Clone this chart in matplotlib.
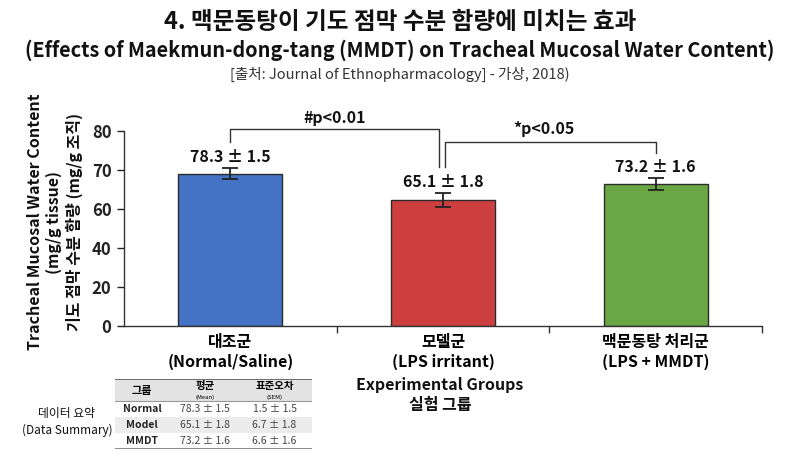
import numpy as np
import matplotlib
matplotlib.use("Agg")
import matplotlib.pyplot as plt
from matplotlib.patches import Rectangle

plt.rcParams['font.family'] = ['Noto Sans CJK KR', 'DejaVu Sans']

# data
groups_kr = ['대조군', '모델군', '맥문동탕 처리군']
groups_en = ['(Normal/Saline)', '(LPS irritant)', '(LPS + MMDT)']
bar_values = [69.1, 62.3, 66.4]          # bar heights as drawn on the axis
bar_errors = [1.5, 1.8, 1.6]
bar_labels = ['78.3 ± 1.5', '65.1 ± 1.8', '73.2 ± 1.6']
bar_colors = ['#4472c4', '#cd3f3f', '#6aa744']
y_ticks = [0, 20, 40, 60, 70, 80]

table_groups = ['Normal', 'Model', 'MMDT']
table_mean = ['78.3 ± 1.5', '65.1 ± 1.8', '73.2 ± 1.6']
table_sem = ['1.5 ± 1.5', '6.7 ± 1.8', '6.6 ± 1.6']


# y axis: 0-60 in steps of 20, then 60-80 in steps of 10, all equally spaced
def fwd(v):
    v = np.asarray(v, dtype=float)
    return np.where(v <= 60, v / 20.0, 3 + (v - 60) / 10.0)


def inv(u):
    u = np.asarray(u, dtype=float)
    return np.where(u <= 3, u * 20.0, 60 + (u - 3) * 10.0)


fig = plt.figure(figsize=(8, 4.55), dpi=100)
ax = fig.add_axes([124 / 800, 1 - 326 / 455, 638 / 800, 195 / 455])

x = np.arange(len(bar_values))
ax.bar(x, bar_values, width=0.49, color=bar_colors, edgecolor='#2b2b2b', linewidth=1.0, zorder=2)
ax.errorbar(x, bar_values, yerr=bar_errors, fmt='none', ecolor='#222222',
            elinewidth=1.3, capsize=6, capthick=1.3, zorder=3)

ax.set_yscale('function', functions=(fwd, inv))
ax.set_ylim(0, 80)
ax.set_xlim(-0.5, 2.5)
ax.set_yticks(y_ticks)
ax.set_yticklabels([str(t) for t in y_ticks], fontsize=12, fontweight='bold')
ax.yaxis.set_minor_locator(plt.NullLocator())
ax.tick_params(axis='y', direction='out', length=5, width=1, pad=4, colors='#222222')

ax.set_xticks(x)
ax.set_xticklabels([f'{k}\n{e}' for k, e in zip(groups_kr, groups_en)],
                   fontsize=11.5, fontweight='bold', linespacing=1.3)
ax.tick_params(axis='x', length=0, pad=6)
ax.set_xticks([0.5, 1.5, 2.5], minor=True)
ax.tick_params(axis='x', which='minor', direction='out', length=5, width=1, color='#333333')

for s in ['top', 'right']:
    ax.spines[s].set_visible(False)
for s in ['left', 'bottom']:
    ax.spines[s].set_color('#333333')
    ax.spines[s].set_linewidth(1.0)

# value labels above error bars
for xi, v, e, lab in zip(x, bar_values, bar_errors, bar_labels):
    ax.annotate(lab, (xi, v + e), xytext=(0, 8), textcoords='offset points',
                ha='center', va='center', fontsize=11.5, fontweight='bold', color='#111111')

# significance brackets
tr = ax.get_xaxis_transform()
ax.plot([0, 0, 0.98, 0.98], [0.945, 1.01, 1.01, 0.815], transform=tr,
        color='#333333', lw=1.0, clip_on=False)
ax.text(0.49, 1.067, '#p<0.01', transform=tr, ha='center', va='center',
        fontsize=11.5, fontweight='bold', color='#111111')
ax.plot([1.01, 1.01, 2.0, 2.0], [0.815, 0.944, 0.944, 0.887], transform=tr,
        color='#333333', lw=1.0, clip_on=False)
ax.text(1.476, 1.01, '*p<0.05', transform=tr, ha='center', va='center',
        fontsize=11.5, fontweight='bold', color='#111111')

# y label
fig.text(55 / 800, 1 - 222 / 455,
         'Tracheal Mucosal Water Content\n(mg/g tissue)\n기도 점막 수분 함량 (mg/g 조직)',
         rotation=90, ha='center', va='center', multialignment='center',
         fontsize=11.5, fontweight='bold', linespacing=1.25, color='#111111')

# x label
fig.text(440 / 800, 1 - 395 / 455, 'Experimental Groups\n실험 그룹', ha='center', va='center',
         fontsize=11.5, fontweight='bold', linespacing=1.3, color='#111111')

# titles
fig.text(0.5, 1 - 22 / 455, '4. 맥문동탕이 기도 점막 수분 함량에 미치는 효과',
         ha='center', va='center', fontsize=17, fontweight='bold', color='#111111')
fig.text(0.5, 1 - 50 / 455, '(Effects of Maekmun-dong-tang (MMDT) on Tracheal Mucosal Water Content)',
         ha='center', va='center', fontsize=14.3, fontweight='bold', color='#111111')
fig.text(0.5, 1 - 74 / 455, '[출처: Journal of Ethnopharmacology] - 가상, 2018)',
         ha='center', va='center', fontsize=10.5, color='#333333')

# data summary table
fig.text(67 / 800, 1 - 422 / 455, '데이터 요약\n(Data Summary)', ha='center', va='center',
         fontsize=8.5, linespacing=1.4, color='#111111')

axt = fig.add_axes([115 / 800, 1 - 449 / 455, 197 / 800, 70 / 455])
axt.set_xlim(0, 1)
axt.set_ylim(1, 0)
axt.axis('off')
head_h = 0.32
row_h = (1 - head_h) / len(table_groups)
col_x = [0.137, 0.457, 0.81]
axt.add_patch(Rectangle((0, 0), 1, head_h, color='#e3e3e3', lw=0))
axt.add_patch(Rectangle((0, head_h + row_h), 1, row_h, color='#ececec', lw=0))
axt.plot([0, 1], [0, 0], color='#555555', lw=1.2)
axt.plot([0, 1], [head_h, head_h], color='#999999', lw=0.8)
axt.plot([0, 1], [1, 1], color='#777777', lw=1.2)

axt.text(col_x[0], head_h / 2, '그룹', ha='center', va='center', fontsize=8, fontweight='bold')
axt.text(col_x[1], head_h * 0.33, '평균', ha='center', va='center', fontsize=7.5, fontweight='bold')
axt.text(col_x[1], head_h * 0.8, '(Mean)', ha='center', va='center', fontsize=4.3)
axt.text(col_x[2], head_h * 0.33, '표준오차', ha='center', va='center', fontsize=7.5, fontweight='bold')
axt.text(col_x[2], head_h * 0.8, '(SEM)', ha='center', va='center', fontsize=4.3)
for i, (g, m, s) in enumerate(zip(table_groups, table_mean, table_sem)):
    yc = head_h + row_h * (i + 0.5)
    axt.text(col_x[0], yc, g, ha='center', va='center', fontsize=7.5, fontweight='bold', color='#222222')
    axt.text(col_x[1], yc, m, ha='center', va='center', fontsize=7.5, color='#444444')
    axt.text(col_x[2], yc, s, ha='center', va='center', fontsize=7.5, color='#444444')

fig.savefig('out.png', dpi=100)
